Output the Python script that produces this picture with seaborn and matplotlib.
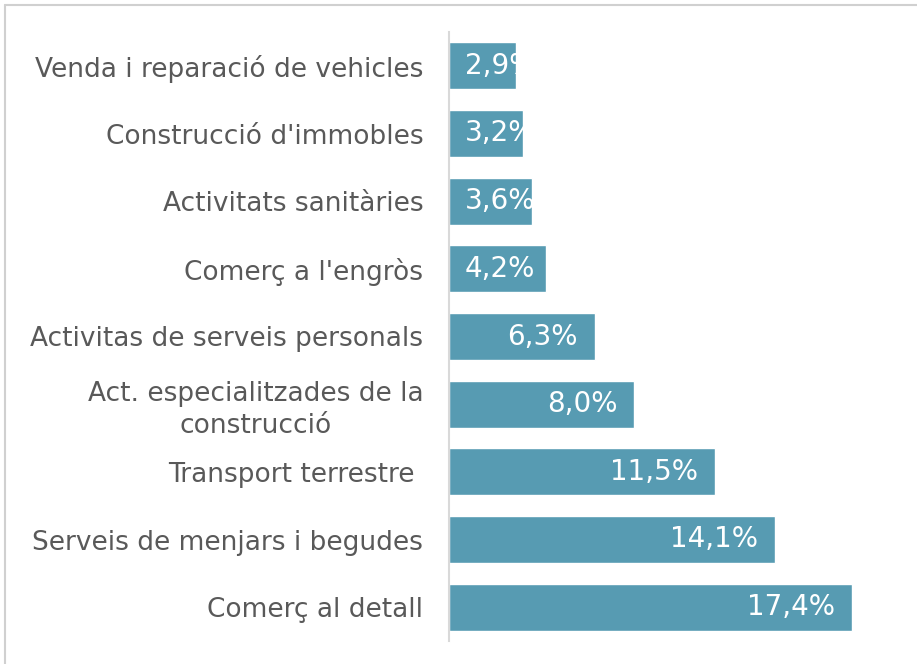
import matplotlib.pyplot as plt
from matplotlib.lines import Line2D
import seaborn as sns

sns.set_theme(style="white")
plt.rcParams['font.family'] = ['DejaVu Sans']

categories = [
    "Venda i reparació de vehicles",
    "Construcció d'immobles",
    "Activitats sanitàries",
    "Comerç a l'engròs",
    "Activitas de serveis personals",
    "Act. especialitzades de la\nconstrucció",
    "Transport terrestre ",
    "Serveis de menjars i begudes",
    "Comerç al detall",
]
values = [2.9, 3.2, 3.6, 4.2, 6.3, 8.0, 11.5, 14.1, 17.4]
labels = ["2,9%", "3,2%", "3,6%", "4,2%", "6,3%", "8,0%", "11,5%", "14,1%", "17,4%"]

W, H = 917, 664
fig = plt.figure(figsize=(W / 100, H / 100), dpi=100)
ax = fig.add_axes([449 / W, 1 - 641 / H, (905 - 449) / W, (641 - 32) / H])

sns.barplot(x=values, y=categories, orient="h", color="#579bb2",
            saturation=1, width=0.69, ax=ax)
ax.set_xlim(0, 19.7)
ax.set_xlabel("")
ax.set_ylabel("")
ax.set_xticks([])
ax.tick_params(axis="y", length=0, pad=18.5, labelsize=19, labelcolor="#595959")
for t in ax.get_yticklabels():
    t.set_multialignment("center")
    t.set_linespacing(1.3)
for s in ["top", "right", "bottom"]:
    ax.spines[s].set_visible(False)
ax.spines["left"].set_color("#d9d9d9")
ax.spines["left"].set_linewidth(1.5)

# value labels inside bar end, clipped by the bar
px = 19.7 / (905 - 449)
fig.canvas.draw()
renderer = fig.canvas.get_renderer()
for bar, lab, v in zip(ax.patches, labels, values):
    y = bar.get_y() + bar.get_height() / 2
    t = ax.text(0, y, lab, ha="left", va="center", color="white", fontsize=20)
    w = t.get_window_extent(renderer).width * px
    left = max(v - 17 * px - w, 16 * px)
    t.set_x(left)
    t.set_clip_path(bar)

# outer frame (top and left edges visible)
fig.add_artist(Line2D([5 / W, 5 / W], [0, 1 - 5 / H], color="#d0d0d0", lw=1.5))
fig.add_artist(Line2D([5 / W, 1], [1 - 5 / H, 1 - 5 / H], color="#d0d0d0", lw=1.5))

fig.savefig("out.png", dpi=100)
